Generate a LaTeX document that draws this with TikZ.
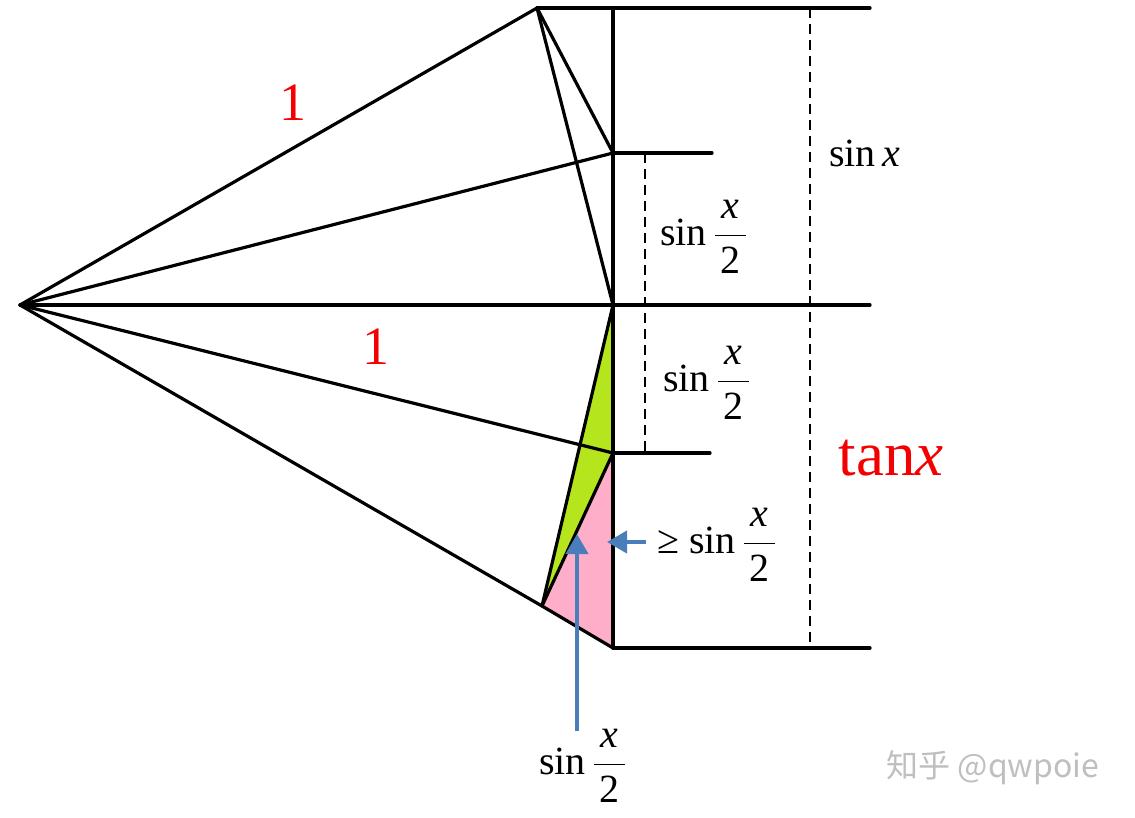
\RequirePackage{fix-cm}
\documentclass[tikz,border=0pt]{standalone}
\usepackage{amsmath}
\usepackage{fontspec}
\setmainfont{Liberation Serif}
\newfontfamily\cjkfont{Noto Sans CJK SC}
\usetikzlibrary{arrows.meta}
\definecolor{lgreen}{RGB}{181,230,29}
\definecolor{lpink}{RGB}{255,174,201}
\definecolor{arrowblue}{RGB}{74,126,187}
\definecolor{lred}{RGB}{245,0,0}
\newcommand{\halfsin}{\text{sin}\,\dfrac{\,\textit{x}\,}{\text{2}}}
\tikzset{
  edge/.style={line width=3.2pt, line join=round, line cap=round},
  dashline/.style={line width=2.4pt, dash pattern=on 10pt off 6pt},
  lbl/.style={inner sep=0pt, font=\fontsize{40}{44}\selectfont},
  redlbl/.style={inner sep=0pt, text=lred, font=\fontsize{54}{58}\selectfont},
  bluearrow/.style={draw=arrowblue, line width=4pt, -{Triangle[length=20pt,width=22pt]}}
}
\begin{document}
\begin{tikzpicture}[x=1pt,y=-1pt]
\useasboundingbox (0,0) rectangle (1135,818);
% points
\coordinate (O) at (20,305);
\coordinate (A) at (537,8);
\coordinate (T) at (613,8);
\coordinate (B) at (613,153);
\coordinate (C) at (613,305);
\coordinate (D) at (613,453);
\coordinate (E) at (542,606);
\coordinate (F) at (613,648);
\coordinate (Ar) at (870,8);
\coordinate (Br) at (712,153);
\coordinate (Cr) at (870,305);
\coordinate (Dr) at (710,453);
\coordinate (Fr) at (870,648);
\coordinate (S1t) at (810,8);
\coordinate (S1b) at (810,648);
\coordinate (S2t) at (645,153);
\coordinate (S2b) at (645,453);
% fills
\fill[lgreen] (C) -- (D) -- (E) -- cycle;
\fill[lpink] (D) -- (E) -- (F) -- cycle;
% dashed
\draw[dashline] (S1t) -- (S1b);
\draw[dashline] (S2t) -- (S2b);
% lines
\draw[edge] (O) -- (A);
\draw[edge] (O) -- (B);
\draw[edge] (O) -- (Cr);
\draw[edge] (O) -- (D);
\draw[edge] (O) -- (E) -- (F);
\draw[edge] (A) -- (B);
\draw[edge] (A) -- (C);
\draw[edge] (C) -- (E);
\draw[edge] (D) -- (E);
\draw[edge] (A) -- (Ar);
\draw[edge] (T) -- (F);
\draw[edge] (B) -- (Br);
\draw[edge] (D) -- (Dr);
\draw[edge] (F) -- (Fr);
% labels
\node[redlbl] (one1) at (293,103) {1};
\node[redlbl] (one2) at (376,347) {1};
\node[lbl, anchor=base west] (sx) at (829,167) {sin\,\textit{x}};
\node[lbl, anchor=west] (h1) at (660,237) {$\halfsin$};
\node[lbl, anchor=west] (h2) at (663,383) {$\halfsin$};
\node[lbl, anchor=west] (h3) at (657,545) {≥\hspace{10pt}$\halfsin$};
\node[lbl, anchor=west] (h4) at (539,766) {$\halfsin$};
\node[inner sep=0pt, text=lred, font=\fontsize{63}{66}\selectfont] (tx) at (891,458) {tan\textit{x}};
\node[inner sep=0pt, text=black!25, font=\cjkfont\fontsize{32}{36}\selectfont] (wm) at (993,768) {知乎 @qwpoie};
% arrows
\coordinate (a1s) at (646,542);
\coordinate (a1e) at (607,542);
\coordinate (a2s) at (577,731);
\coordinate (a2e) at (577,534);
\draw[bluearrow] (a1s) -- (a1e);
\draw[bluearrow] (a2s) -- (a2e);
\end{tikzpicture}
\end{document}
